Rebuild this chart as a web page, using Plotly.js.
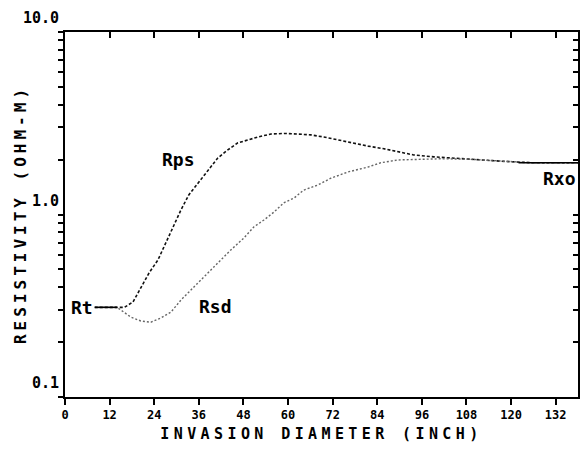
<!DOCTYPE html>
<html>
<head>
<meta charset="utf-8">
<script src="https://cdn.plot.ly/plotly-3.0.1.min.js"></script>
<style>
  html, body { margin: 0; padding: 0; background: #fff; }
  #chart { width: 584px; height: 451px; }
</style>
</head>
<body>
<div id="chart"></div>
<script>
// Apparent resistivity vs. invasion diameter
const Rt = 0.31;    // true formation resistivity (ohm-m)
const Rxo = 1.92;   // flushed-zone resistivity (ohm-m)

// Rps curve
const rpsX = [8, 14, 16, 18.3, 20.4, 22.6, 25, 26.6, 29, 31.2, 33.3, 35.8, 38.4, 41.1, 43.8, 46.5, 49.2, 51.9, 55.4, 59, 62.6, 66.1, 69.6, 73.4, 76.9, 81.5, 85.8, 90.3, 93.8, 99.2, 108.3, 117.2, 126, 138];
const rpsY = [0.31, 0.31, 0.31, 0.332, 0.396, 0.478, 0.563, 0.664, 0.855, 1.06, 1.28, 1.49, 1.75, 2.04, 2.26, 2.47, 2.56, 2.66, 2.76, 2.78, 2.76, 2.73, 2.66, 2.56, 2.47, 2.37, 2.29, 2.2, 2.12, 2.07, 2.01, 1.96, 1.92, 1.92];

// Rsd curve
const rsdX = [8, 14, 15.5, 17.7, 20.4, 23.1, 25.8, 28.5, 31.2, 33.9, 36.6, 39.2, 41.9, 44.6, 48.1, 50.8, 53.5, 56.2, 58.9, 61.6, 64.2, 68, 71.5, 76.1, 81.5, 84.9, 89.5, 94.9, 101, 108.3, 117.2, 126, 138];
const rsdY = [0.31, 0.31, 0.295, 0.274, 0.261, 0.257, 0.271, 0.292, 0.34, 0.386, 0.438, 0.497, 0.564, 0.639, 0.743, 0.855, 0.933, 1.03, 1.16, 1.23, 1.36, 1.45, 1.58, 1.71, 1.82, 1.92, 1.99, 2.0, 2.02, 2.01, 1.96, 1.92, 1.92];

// plateau segments at the Rt and Rxo levels
const leadX = [8, 14];
const tailX = [122, 138];

// axis ticks
const xTicks = [0, 12, 24, 36, 48, 60, 72, 84, 96, 108, 120, 132];
const yTicks = [0.1, 0.2, 0.3, 0.4, 0.5, 0.6, 0.7, 0.8, 0.9, 1, 2, 3, 4, 5, 6, 7, 8, 9, 10];
const yTickText = ['0.1', '', '', '', '', '', '', '', '', '1.0', '', '', '', '', '', '', '', '', '10.0'];

const FONT = '"DejaVu Sans Mono", "Liberation Mono", monospace';

const traces = [
  { x: rpsX, y: rpsY, mode: 'lines', line: { color: '#111', width: 1.6, dash: '3px,2px' }, showlegend: false },
  { x: rsdX, y: rsdY, mode: 'lines', line: { color: '#666', width: 1.4, dash: '2px,2px' }, showlegend: false },
  { x: leadX, y: leadX.map(() => Rt), mode: 'lines', line: { color: '#000', width: 1.6 }, showlegend: false },
  { x: tailX, y: tailX.map(() => Rxo), mode: 'lines', line: { color: '#000', width: 1.6 }, showlegend: false },
  // carrier for the mirrored top / right axes
  { x: [], y: [], xaxis: 'x2', yaxis: 'y2', showlegend: false }
];

const layout = {
  width: 584, height: 451,
  margin: { l: 65, r: 6, t: 32, b: 54 },
  paper_bgcolor: '#fff', plot_bgcolor: '#fff',
  font: { family: FONT, color: '#000', weight: 'bold' },
  showlegend: false,
  hovermode: false,
  xaxis: {
    range: [0, 138], tickvals: xTicks, ticktext: xTicks.map(String),
    ticks: 'outside', ticklen: 6, tickwidth: 2, tickcolor: '#000',
    showline: true, linecolor: '#000', linewidth: 2,
    showgrid: false, zeroline: false,
    tickfont: { family: FONT, size: 12, weight: 'bold' },
    title: { text: 'INVASION DIAMETER (INCH)', font: { family: FONT, size: 15, weight: 'bold' }, standoff: 7 }
  },
  yaxis: {
    type: 'log', range: [-1, 1], tickvals: yTicks, ticktext: yTickText,
    ticks: 'outside', ticklen: 5, tickwidth: 2, tickcolor: '#000',
    showline: true, linecolor: '#000', linewidth: 2,
    showgrid: false, zeroline: false,
    ticklabelshift: -14, ticklabelstandoff: -4,
    tickfont: { family: FONT, size: 15, weight: 'bold' },
    title: { text: 'RESISTIVITY (OHM-M)', font: { family: FONT, size: 16, weight: 'bold' }, standoff: 0 }
  },
  xaxis2: {
    overlaying: 'x', side: 'top', range: [0, 138], tickvals: xTicks,
    ticks: 'inside', ticklen: 6, tickwidth: 2, tickcolor: '#000',
    showticklabels: false, showline: true, linecolor: '#000', linewidth: 2,
    showgrid: false, zeroline: false
  },
  yaxis2: {
    overlaying: 'y', side: 'right', type: 'log', range: [-1, 1], tickvals: yTicks,
    ticks: 'inside', ticklen: 5, tickwidth: 2, tickcolor: '#000',
    showticklabels: false, showline: true, linecolor: '#000', linewidth: 2,
    showgrid: false, zeroline: false
  },
  annotations: [
    { x: 30.4, y: Math.log10(1.99), xref: 'x', yref: 'y', text: 'Rps', showarrow: false,
      font: { family: FONT, size: 18, weight: 'bold' } },
    { x: 40.6, y: Math.log10(0.315), xref: 'x', yref: 'y', text: 'Rsd', showarrow: false,
      font: { family: FONT, size: 18, weight: 'bold' } },
    { x: leadX[0], y: Math.log10(Rt), xref: 'x', yref: 'y', text: 'Rt', showarrow: false,
      xanchor: 'right', font: { family: FONT, size: 18, weight: 'bold' } },
    { x: 138, y: Math.log10(Rxo), xref: 'x', yref: 'y', text: 'Rxo', showarrow: false,
      xanchor: 'right', yanchor: 'top', yshift: -3, font: { family: FONT, size: 18, weight: 'bold' } }
  ]
};

Plotly.newPlot('chart', traces, layout, { staticPlot: true, displayModeBar: false }).then(() => {
  // wide letter spacing on the axis titles; nudge the vertical title toward the axis
  document.querySelectorAll('.g-xtitle text').forEach(t => { t.style.letterSpacing = '4.4px'; });
  document.querySelectorAll('.g-ytitle text').forEach(t => { t.style.letterSpacing = '4px'; });
  document.querySelectorAll('.g-ytitle').forEach(g => { g.setAttribute('transform', 'translate(8,0)'); });
});
</script>
</body>
</html>
